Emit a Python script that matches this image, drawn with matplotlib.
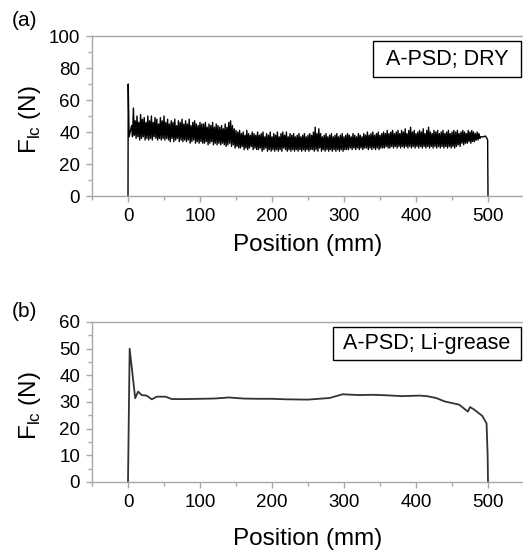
import numpy as np
import matplotlib
matplotlib.use("Agg")
import matplotlib.pyplot as plt
from matplotlib.ticker import MultipleLocator
from matplotlib.patches import Rectangle

plt.rcParams['font.family'] = ['Liberation Sans', 'DejaVu Sans']
plt.rcParams['mathtext.fontset'] = 'custom'
plt.rcParams['mathtext.rm'] = 'Liberation Sans'

# ---------------- data: panel (a) A-PSD; DRY ----------------
# start transient
dry_start_x = [0.0, 0.3, 1.5, 3.0]
dry_start_y = [0, 70, 37, 40]
dry_osc_start = 5.0
dry_osc_step = 1.25
dry_osc_y = [
    44, 37, 55, 38, 47, 36, 50, 37, 46, 35, 51, 36, 48, 37, 49, 35, 46, 36, 50, 35,
    47, 36, 50, 35, 46, 37, 49, 36, 48, 35, 45, 36, 49, 35, 47, 36, 50, 35, 46, 36,
    48, 35, 45, 34, 47, 36, 46, 34, 48, 35, 44, 36, 47, 34, 46, 35, 48, 34, 45, 35,
    47, 34, 45, 35, 48, 33, 44, 34, 46, 35, 47, 33, 45, 34, 44, 33, 46, 34, 45, 33,
    45, 33, 46, 34, 43, 32, 45, 33, 44, 34, 46, 32, 43, 33, 45, 32, 44, 33, 43, 32,
    44, 33, 42, 32, 45, 31, 43, 32, 46, 33, 47, 31, 44, 32, 42, 30, 41, 31, 40, 30,
    41, 30, 39, 31, 40, 29, 38, 30, 41, 29, 39, 30, 38, 31, 40, 29, 39, 30, 38, 29,
    40, 29, 38, 30, 39, 28, 40, 29, 37, 30, 39, 28, 38, 29, 40, 28, 37, 29, 39, 28,
    38, 29, 40, 28, 37, 29, 39, 28, 40, 30, 38, 29, 40, 28, 37, 29, 39, 28, 38, 29,
    39, 28, 37, 29, 38, 28, 39, 29, 37, 28, 38, 29, 39, 28, 37, 29, 38, 28, 39, 29,
    38, 29, 40, 28, 43, 29, 39, 28, 42, 30, 39, 28, 37, 29, 38, 28, 39, 29, 37, 28,
    38, 29, 39, 28, 37, 29, 38, 28, 39, 29, 37, 28, 38, 29, 39, 28, 37, 29, 38, 29,
    39, 29, 38, 30, 37, 29, 39, 30, 38, 29, 37, 30, 39, 29, 38, 30, 37, 29, 39, 30,
    38, 30, 40, 29, 38, 30, 39, 29, 40, 30, 38, 29, 39, 30, 40, 29, 38, 30, 39, 30,
    40, 30, 39, 31, 41, 30, 39, 30, 40, 31, 41, 30, 39, 31, 40, 30, 41, 31, 39, 30,
    41, 31, 40, 30, 42, 31, 39, 30, 41, 31, 43, 30, 40, 31, 41, 30, 39, 31, 40, 30,
    41, 31, 40, 30, 42, 31, 39, 30, 41, 31, 43, 30, 40, 31, 39, 30, 41, 31, 40, 30,
    41, 31, 39, 30, 40, 31, 41, 30, 39, 31, 40, 30, 41, 31, 39, 30, 40, 31, 41, 30,
    40, 31, 41, 32, 39, 31, 40, 33, 41, 32, 40, 33, 39, 33, 41, 34, 40, 33, 41, 34,
    40, 34, 39, 35, 40, 35, 39, 36,
]
# end of stroke
dry_end_x = [490, 494, 496, 498, 499.5, 500]
dry_end_y = [37, 37, 37.5, 36.5, 35, 0]

# ---------------- data: panel (b) A-PSD; Li-grease ----------------
grease_x = [0, 2.3, 10, 14, 19, 26, 33, 40, 52, 61, 80, 100, 120, 140, 160, 180,
            200, 220, 250, 280, 298, 320, 340, 360, 380, 405, 415, 428, 440,
            460, 472, 475, 480, 492, 498, 499.5, 500]
grease_y = [0, 50, 31.4, 33.9, 32.6, 32.4, 31.0, 32.0, 32.0, 31.1, 31.1, 31.2,
            31.3, 31.7, 31.3, 31.2, 31.2, 31.0, 30.9, 31.5, 32.9, 32.6, 32.7,
            32.5, 32.2, 32.4, 32.2, 31.5, 30.2, 29.0, 26.4, 28.1, 27.3, 24.8,
            22.0, 10.0, 0]

x_ticks = [0, 100, 200, 300, 400, 500]
ya_ticks = [0, 20, 40, 60, 80, 100]
yb_ticks = [0, 10, 20, 30, 40, 50, 60]
label_a = "A-PSD; DRY"
label_b = "A-PSD; Li-grease"
xlabel = "Position (mm)"
ylabel = r"F$_{\mathregular{lc}}$ (N)"

# ---------------- figure ----------------
W, H = 523, 551
fig = plt.figure(figsize=(W / 100, H / 100), dpi=100)

ax_l = 92 / W
ax_w = 432 / W
ax_h = 160 / H
ax_a = fig.add_axes([ax_l, 1 - 196 / H, ax_w, ax_h])
ax_b = fig.add_axes([ax_l, 1 - 482 / H, ax_w, ax_h])

osc_x = dry_osc_start + dry_osc_step * np.arange(len(dry_osc_y))
xa = np.concatenate([dry_start_x, osc_x, dry_end_x])
ya = np.concatenate([dry_start_y, dry_osc_y, dry_end_y])
ax_a.plot(xa, ya, color='black', lw=1.0)

ax_b.plot(grease_x, grease_y, color='#333333', lw=1.3)

spine_col = '#a8a8a8'
for ax, yt, ymax, yminor in [(ax_a, ya_ticks, 100, 10), (ax_b, yb_ticks, 60, 5)]:
    ax.set_xlim(-50, 550)
    ax.set_ylim(0, ymax)
    ax.set_xticks(x_ticks)
    ax.set_yticks(yt)
    ax.xaxis.set_minor_locator(MultipleLocator(50))
    ax.yaxis.set_minor_locator(MultipleLocator(yminor))
    for s in ['left', 'bottom', 'top']:
        ax.spines[s].set_color(spine_col)
        ax.spines[s].set_linewidth(1.0)
    ax.spines['right'].set_visible(False)
    ax.tick_params(which='both', direction='out', color=spine_col, labelsize=13.5,
                   labelcolor='black', top=False, right=False)
    ax.tick_params(which='major', length=4.5, width=1.0, pad=4)
    ax.tick_params(which='minor', length=3, width=1.0)
    ax.set_ylabel(ylabel, fontsize=17.5)
    ax.set_xlabel(xlabel, fontsize=17.5)
    ax.yaxis.set_label_coords(-0.113, 0.48)

ax_a.xaxis.set_label_coords(0.498, -0.24)
ax_b.xaxis.set_label_coords(0.498, -0.285)

# legend-like boxes (pixel extents from the reference)
for (x0, y0, x1, y1), txt in [((373, 41, 521, 77), label_a),
                              ((333, 327, 521, 360), label_b)]:
    fig.patches.append(Rectangle((x0 / W, 1 - y1 / H), (x1 - x0) / W, (y1 - y0) / H,
                                 transform=fig.transFigure, fc='white', ec='black',
                                 lw=1.0, zorder=5))
    fig.text((x0 + x1) / 2 / W, 1 - (y0 + y1) / 2 / H, txt, fontsize=15.5,
             ha='center', va='center', zorder=6)

fig.text(12 / W, 1 - 11 / H, "(a)", fontsize=15, ha='left', va='top')
fig.text(12 / W, 1 - 302 / H, "(b)", fontsize=15, ha='left', va='top')

fig.savefig("out.png", dpi=100)
